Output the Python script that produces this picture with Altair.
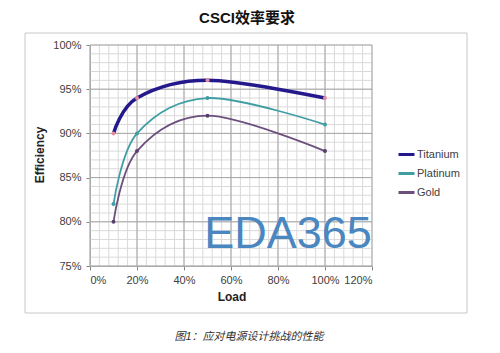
import altair as alt
import pandas as pd

# ---- data ----
series = ["Titanium", "Platinum", "Gold"]
load = [0.10, 0.20, 0.50, 1.00]
titanium = [0.90, 0.94, 0.96, 0.94]
platinum = [0.82, 0.90, 0.94, 0.91]
gold = [0.80, 0.88, 0.92, 0.88]

line_colors = ["#24198c", "#3f9ea3", "#6c4f7d"]
marker_colors = ["#e68e9e", "#3f9ea3", "#5a3f6c"]
line_widths = [3.5, 1.8, 1.8]

x_ticks = [0.0, 0.2, 0.4, 0.6, 0.8, 1.0, 1.2]
y_ticks = [0.75, 0.80, 0.85, 0.90, 0.95, 1.00]
x_minor = [round(i * 0.04, 4) for i in range(31)]
y_minor = [round(0.75 + i * 0.01, 4) for i in range(26)]

title_text = "CSCI效率要求"
caption_text = "图1：应对电源设计挑战的性能"
watermark_text = "EDA365"

rows = []
for name, vals, lc, mc, w in zip(series, [titanium, platinum, gold], line_colors, marker_colors, line_widths):
    for x, y in zip(load, vals):
        rows.append({"series": name, "load": x, "eff": y, "mc": mc, "w": w})
df = pd.DataFrame(rows)

W, H = 282, 221
FONT = "Liberation Sans, Noto Sans CJK SC"
xscale = alt.Scale(domain=[0, 1.2], nice=False, zero=False)
yscale = alt.Scale(domain=[0.75, 1.0], nice=False, zero=False)

xaxis = alt.Axis(values=x_ticks, format=".0%", title=None, grid=False,
                 labelFont=FONT, labelFontSize=11, labelColor="#404040",
                 domainColor="#888888", tickColor="#888888", tickSize=4,
                 labelPadding=4)
yaxis = alt.Axis(values=y_ticks, format=".0%", title=None, grid=False,
                 labelFont=FONT, labelFontSize=11, labelColor="#404040",
                 domainColor="#888888", tickColor="#888888", tickSize=4,
                 labelPadding=5)

one = alt.Data(values=[{}])

frame = alt.Chart(one).mark_rect(fillOpacity=0, stroke="#c8c8c8", strokeWidth=1).encode(
    x=alt.value(-65), x2=alt.value(377), y=alt.value(-12), y2=alt.value(268)
)

vminor = alt.Chart(pd.DataFrame({"v": x_minor})).mark_rule(color="#d9d9d9", strokeWidth=1).encode(
    x=alt.X("v:Q", scale=xscale, axis=xaxis)
)
hminor = alt.Chart(pd.DataFrame({"v": y_minor})).mark_rule(color="#d9d9d9", strokeWidth=1).encode(
    y=alt.Y("v:Q", scale=yscale, axis=yaxis)
)
vmajor = alt.Chart(pd.DataFrame({"v": x_ticks})).mark_rule(color="#a6a6a6", strokeWidth=1).encode(
    x=alt.X("v:Q", scale=xscale, axis=xaxis)
)
hmajor = alt.Chart(pd.DataFrame({"v": y_ticks})).mark_rule(color="#a6a6a6", strokeWidth=1).encode(
    y=alt.Y("v:Q", scale=yscale, axis=yaxis)
)

lines = alt.Chart(df).mark_line(interpolate="cardinal", tension=0).encode(
    x=alt.X("load:Q", scale=xscale, axis=xaxis),
    y=alt.Y("eff:Q", scale=yscale, axis=yaxis),
    color=alt.Color("series:N", scale=alt.Scale(domain=series, range=line_colors),
                    legend=alt.Legend(orient="none", legendX=307, legendY=100, title=None,
                                      symbolType="stroke", symbolStrokeWidth=3, symbolSize=256,
                                      labelFont=FONT, labelFontSize=11, labelColor="#404040",
                                      rowPadding=3, padding=0, labelOffset=1)),
    strokeWidth=alt.StrokeWidth("w:Q", scale=None),
    detail="series:N",
)

points = alt.Chart(df).mark_circle(size=16, opacity=1).encode(
    x=alt.X("load:Q", scale=xscale, axis=xaxis),
    y=alt.Y("eff:Q", scale=yscale, axis=yaxis),
    fill=alt.Fill("mc:N", scale=None),
)

def txt(text, x, y, **kw):
    return alt.Chart(alt.Data(values=[{"t": text}])).mark_text(**kw).encode(
        text="t:N", x=alt.value(x), y=alt.value(y)
    )

title = txt(title_text, 157, -27, font=FONT, fontSize=15, fontWeight="bold", color="#111111",
            baseline="middle", align="center")
ytitle = txt("Efficiency", -50, 110, font=FONT, fontSize=12, fontWeight="bold", color="#222222",
             angle=270, baseline="middle", align="center")
xtitle = txt("Load", 142, 252, font=FONT, fontSize=12, fontWeight="bold", color="#222222",
             baseline="middle", align="center")
caption = txt(caption_text, 159, 292, font=FONT, fontSize=11, fontStyle="italic", color="#333333",
              baseline="middle", align="center")
watermark = txt(watermark_text, 198, 203, font="Liberation Sans", fontSize=45, color="#4a86c0",
                baseline="alphabetic", align="center")

chart = alt.layer(
    vminor, hminor, vmajor, hmajor, frame, lines, points, watermark, title, ytitle, xtitle, caption
).properties(
    width=W, height=H,
    autosize=alt.AutoSizeParams(type="none"),
    padding={"left": 90, "top": 45, "right": 128, "bottom": 87},
    background="white",
).configure_view(strokeWidth=0)

chart.save("out.html", embed_options={"renderer": "svg", "actions": False})
